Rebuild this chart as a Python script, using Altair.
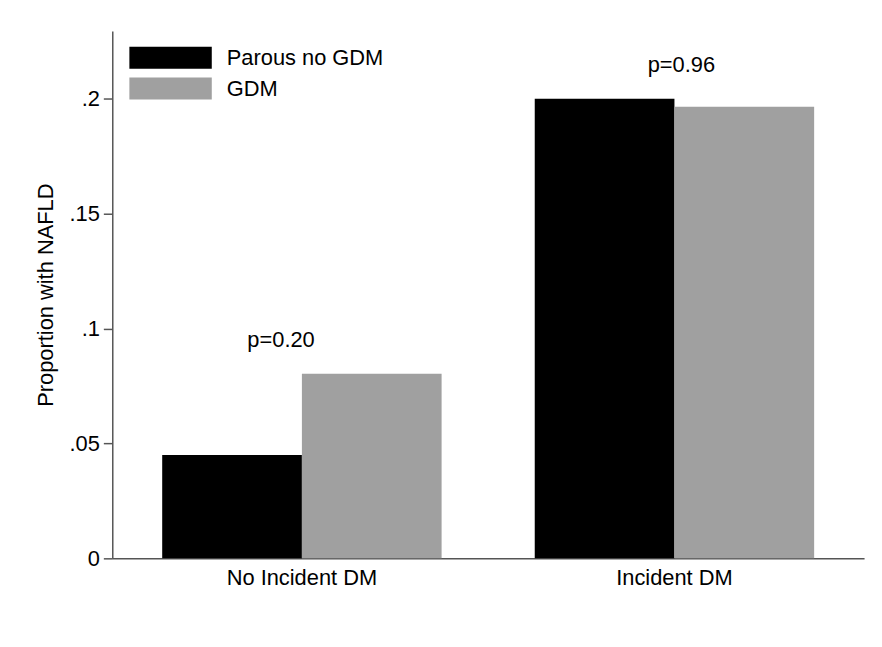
import altair as alt
import pandas as pd

groups = ["No Incident DM", "Incident DM"]
series = ["Parous no GDM", "GDM"]
parous_vals = [0.045, 0.200]
gdm_vals = [0.0803, 0.1965]
p_labels = ["p=0.20", "p=0.96"]
y_ticks = [0, 0.05, 0.1, 0.15, 0.2]
colors = ["#000000", "#a0a0a0"]

rows = []
for g, a, b in zip(groups, parous_vals, gdm_vals):
    rows.append({"group": g, "series": series[0], "value": a})
    rows.append({"group": g, "series": series[1], "value": b})
df = pd.DataFrame(rows)

ann = pd.DataFrame({
    "group": groups,
    "label": p_labels,
    "top": [max(a, b) for a, b in zip(parous_vals, gdm_vals)],
})

FONT = "Liberation Sans"
AXC = "#555555"

x_enc = alt.X("group:N", sort=groups,
              scale=alt.Scale(paddingInner=0.25, paddingOuter=0.134),
              axis=alt.Axis(title=None, ticks=False, tickSize=0, labelPadding=9,
                            labelFontSize=22, labelFont=FONT, labelColor="black",
                            domainColor=AXC, domainWidth=1.5, labelAngle=0))
y_scale = alt.Scale(domain=[0, 0.2295], nice=False)

bars = alt.Chart(df).mark_bar(stroke=None).encode(
    x=x_enc,
    xOffset=alt.XOffset("series:N", sort=series,
                        scale=alt.Scale(paddingInner=0, paddingOuter=0)),
    y=alt.Y("value:Q", scale=y_scale,
            axis=alt.Axis(title="Proportion with NAFLD", values=y_ticks,
                          labelExpr="datum.value == 0 ? '0' : substring(format(datum.value, '.2~f'), 1)",
                          grid=False, tickSize=9, tickColor=AXC, tickWidth=1.5,
                          domainColor=AXC, domainWidth=1.5, labelPadding=4,
                          labelFontSize=22, labelFont=FONT, labelColor="black",
                          titleFontSize=22, titleFont=FONT, titleFontWeight="normal",
                          titleColor="black", titlePadding=12)),
    color=alt.Color("series:N", sort=series,
                    scale=alt.Scale(domain=series, range=colors),
                    legend=alt.Legend(title=None, orient="none", legendX=44.7, legendY=13,
                                      symbolType="M-3,-0.8L3,-0.8L3,0.8L-3,0.8Z",
                                      symbolSize=765, symbolStrokeWidth=0,
                                      labelFontSize=22, labelFont=FONT, labelColor="black",
                                      labelOffset=42.6, rowPadding=5, padding=0)),
)

text_left = alt.Chart(ann).transform_filter(
    alt.datum.group == groups[0]
).mark_text(font=FONT, fontSize=22, color="black", baseline="alphabetic",
            dy=-27, dx=-21).encode(
    x=alt.X("group:N", sort=groups), y=alt.Y("top:Q", scale=y_scale), text="label:N")

text_right = alt.Chart(ann).transform_filter(
    alt.datum.group == groups[1]
).mark_text(font=FONT, fontSize=22, color="black", baseline="alphabetic",
            dy=-27, dx=7).encode(
    x=alt.X("group:N", sort=groups), y=alt.Y("top:Q", scale=y_scale), text="label:N")

chart = alt.layer(bars, text_left, text_right).properties(
    width=757, height=531,
    autosize=alt.AutoSizeParams(type="none"),
    padding={"left": 105, "top": 21, "right": 10, "bottom": 70},
    background="white",
).configure_view(stroke=None)

chart.save("out.html", embed_options={"renderer": "svg", "actions": False})
